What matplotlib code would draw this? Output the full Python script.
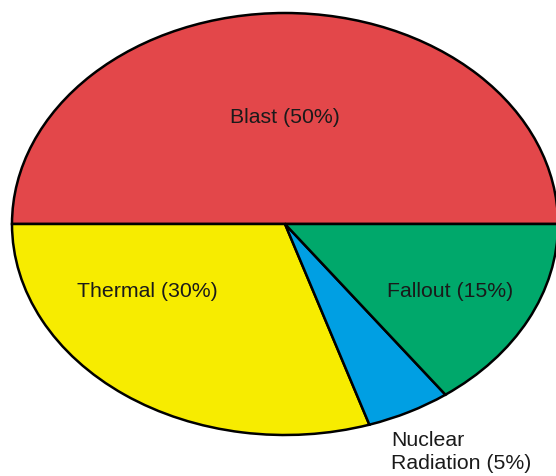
import matplotlib
matplotlib.use('Agg')

import matplotlib.pyplot as plt

# data
labels = ["Blast", "Thermal", "Nuclear\nRadiation", "Fallout"]
shares = [50, 30, 5, 15]
colors = ["#E3474A", "#F7EC00", "#009FE3", "#00A86B"]

# label anchor points in unit-pie coords (ellipse stretched afterwards)
label_pos = [(0.0, 0.507), (-0.505, -0.318), (0.39, -1.08), (0.604, -0.318)]
label_ha = ["center", "center", "left", "center"]

fig = plt.figure(figsize=(5.56, 4.76), dpi=100)
# axes box = bounding box of the ellipse
ax = fig.add_axes([12 / 556, 41 / 476, 546 / 556, 422 / 476])

wedges, _ = ax.pie(
    shares,
    colors=colors,
    startangle=0,
    counterclock=True,
    wedgeprops=dict(edgecolor="black", linewidth=1.8),
)
for w in wedges:
    w.set_clip_on(False)

ax.set_aspect("auto")
ax.set_xlim(-1, 1)
ax.set_ylim(-1, 1)
ax.axis("off")

for lab, val, (x, y), ha in zip(labels, shares, label_pos, label_ha):
    ax.text(x, y, f"{lab} ({val}%)", ha=ha, va="center",
            fontsize=15.3, family="Liberation Sans", color="#1a1a1a",
            linespacing=1.25, clip_on=False)

fig.savefig("out.png", dpi=100)
